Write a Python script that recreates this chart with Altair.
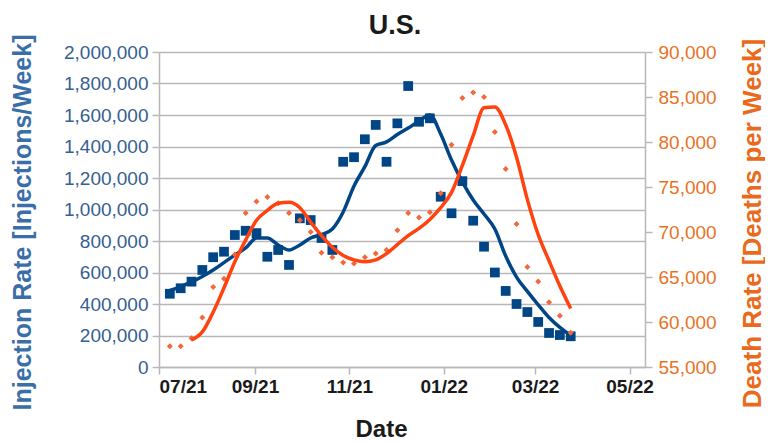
import altair as alt
import pandas as pd

# ---------------- data ----------------
weeks = [
    "2021-07-08", "2021-07-15", "2021-07-22", "2021-07-29",
    "2021-08-05", "2021-08-12", "2021-08-19", "2021-08-26",
    "2021-09-02", "2021-09-09", "2021-09-16", "2021-09-23", "2021-09-30",
    "2021-10-07", "2021-10-14", "2021-10-21", "2021-10-28",
    "2021-11-04", "2021-11-11", "2021-11-18", "2021-11-25",
    "2021-12-02", "2021-12-09", "2021-12-16", "2021-12-23", "2021-12-30",
    "2022-01-06", "2022-01-13", "2022-01-20", "2022-01-27",
    "2022-02-03", "2022-02-10", "2022-02-17", "2022-02-24",
    "2022-03-03", "2022-03-10", "2022-03-17", "2022-03-24",
]

injections = [
    465000, 500000, 542000, 616000, 697000, 732000, 838000, 865000,
    850000, 700000, 743000, 648000, 944000, 933000, 819000, 743000,
    1303000, 1332000, 1446000, 1537000, 1303000, 1547000, 1784000, 1557000,
    1579000, 1081000, 976000, 1180000, 929000, 764000, 600000, 483000,
    400000, 349000, 286000, 216000, 203000, 195000,
]

injection_trend = [
    486000, 511000, 540000, 575000, 616000, 663000, 711000, 756000,
    819000, 819000, 775000, 743000, 775000, 819000, 841000, 876000,
    984000, 1149000, 1272000, 1406000, 1429000, 1476000, 1517000, 1562000,
    1600000, 1479000, 1314000, 1175000, 1060000, 971000, 876000, 705000,
    571000, 480000, 395000, 314000, 251000, 200000,
]

deaths = [
    57300, 57300, 58200, 60500, 63900, 64800, 67500, 72100,
    73400, 73900, 73200, 72100, 71300, 70000, 67700, 67200,
    66600, 66500, 67200, 67600, 68000, 70200, 72100, 71600,
    72200, 74300, 79700, 84900, 85500, 85000, 81100, 77000,
    70900, 66100, 64500, 62200, 60700, 58800,
]

death_trend = [
    None, None, 58000, 58900, 61100, 63800, 66700, 69100,
    71300, 72400, 73200, 73300, 72700, 71100, 69600, 68300,
    67400, 66900, 66700, 66900, 67600, 68600, 69600, 70400,
    71400, 72700, 74400, 77400, 80700, 83800, 83900, 81900,
    78300, 73600, 69700, 66800, 64000, 61500,
]

left_ticks = [0, 200000, 400000, 600000, 800000, 1000000,
              1200000, 1400000, 1600000, 1800000, 2000000]
right_ticks = [55000, 60000, 65000, 70000, 75000, 80000, 85000, 90000]
x_ticks = [(2021, 7), (2021, 9), (2021, 11), (2022, 1), (2022, 3), (2022, 5)]

# ---------------- styling ----------------
FONT = "Liberation Sans"
BLUE = "#004586"
ORANGE = "#ff420e"
DIAMOND = "#f2683a"
GRID = "#b8b8b8"
LEFT_LABEL = "#35608f"
LEFT_TITLE = "#3a6ea8"
RIGHT_LABEL = "#e8731f"
RIGHT_TITLE = "#ea6a1c"

df = pd.DataFrame({
    "week": pd.to_datetime(weeks),
    "injections": injections,
    "injection_trend": injection_trend,
    "deaths": deaths,
    "death_trend": death_trend,
})

x_enc = alt.X(
    "week:T",
    scale=alt.Scale(domain=[alt.DateTime(year=2021, month=7, date=1),
                            alt.DateTime(year=2022, month=5, date=11)]),
    axis=alt.Axis(
        values=[alt.DateTime(year=y, month=m, date=1) for y, m in x_ticks],
        format="%m/%y", labelFont=FONT, labelFontSize=19, labelFontWeight="bold",
        labelColor="#1a1a1a", labelPadding=3, tickSize=7, tickColor=GRID,
        domainColor=GRID, domainWidth=1.5, tickWidth=1.5, grid=False,
        title="Date", titleFont=FONT, titleFontSize=24, titleFontWeight="bold",
        titleColor="#1a1a1a", titleX=222, titleY=62, titleBaseline="middle",
        titleAlign="center",
    ),
)

left_axis = alt.Axis(
    values=left_ticks, format=",.0f", labelFont=FONT, labelFontSize=19,
    labelColor=LEFT_LABEL, labelPadding=4, tickSize=7, tickColor=GRID,
    tickWidth=1.5, domainColor=GRID, domainWidth=1.5, grid=True,
    gridColor=GRID, gridWidth=1.5,
    title="Injection Rate [Injections/Week]", titleFont=FONT, titleFontSize=25,
    titleFontWeight="bold", titleColor=LEFT_TITLE, titleAngle=270,
    titleX=-137, titleY=170, titleBaseline="middle", titleAlign="center",
)
left_scale = alt.Scale(domain=[0, 2000000], nice=False)

right_axis = alt.Axis(
    orient="right", values=right_ticks, format=",.0f", labelFont=FONT,
    labelFontSize=19, labelColor=RIGHT_LABEL, labelPadding=6, tickSize=7,
    tickColor=GRID, tickWidth=1.5, domainColor=GRID, domainWidth=1.5,
    grid=False,
    title="Death Rate [Deaths per Week]", titleFont=FONT, titleFontSize=26,
    titleFontWeight="bold", titleColor=RIGHT_TITLE, titleAngle=270,
    titleX=107, titleY=171, titleBaseline="middle", titleAlign="center",
)
right_scale = alt.Scale(domain=[55000, 90000], nice=False, zero=False)

base = alt.Chart(df)

squares = base.mark_square(size=95, color=BLUE, opacity=1).encode(
    x=x_enc,
    y=alt.Y("injections:Q", scale=left_scale, axis=left_axis),
)
blue_line = base.mark_line(color=BLUE, strokeWidth=3.5, interpolate="monotone").encode(
    x=x_enc,
    y=alt.Y("injection_trend:Q", scale=left_scale, axis=left_axis),
)
diamonds = base.mark_point(shape="diamond", filled=True, size=36, color=DIAMOND,
                           opacity=1).encode(
    x=x_enc,
    y=alt.Y("deaths:Q", scale=right_scale, axis=right_axis),
)
orange_line = base.mark_line(color=ORANGE, strokeWidth=3.5, interpolate="monotone").encode(
    x=x_enc,
    y=alt.Y("death_trend:Q", scale=right_scale, axis=right_axis),
)

left_layer = alt.layer(squares, blue_line)
right_layer = alt.layer(diamonds, orange_line)

chart = alt.layer(left_layer, right_layer).resolve_scale(
    y="independent"
).properties(
    width=486,
    height=315,
    padding={"left": 151, "top": 44, "right": 120, "bottom": 73},
    autosize=alt.AutoSizeParams(type="none"),
    title=alt.TitleParams(
        text="U.S.", font=FONT, fontSize=27, fontWeight="bold",
        color="#1a1a1a", anchor="middle", frame="group", dx=-7, offset=-6,
    ),
).configure_view(stroke=None)

chart.save("out.html", embed_options={"renderer": "svg", "actions": False})
